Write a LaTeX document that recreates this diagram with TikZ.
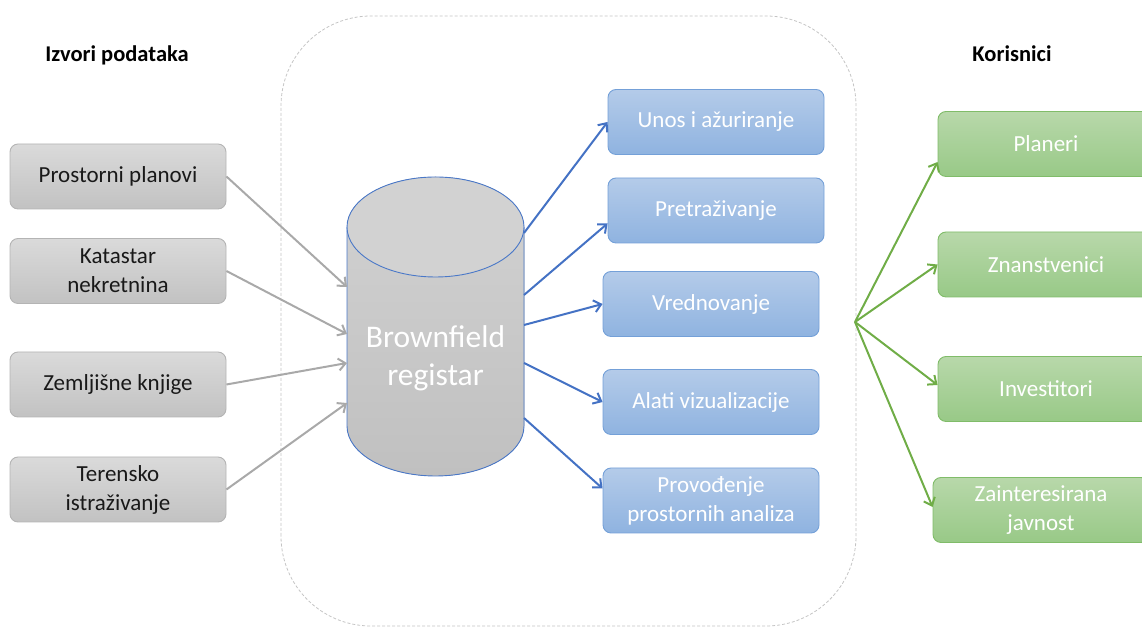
\documentclass[tikz,border=0pt]{standalone}
\usepackage{fontspec}
\setmainfont{Carlito}
\usetikzlibrary{arrows.meta,shapes.geometric}
\definecolor{srcTop}{HTML}{DADADA}
\definecolor{srcBot}{HTML}{C2C2C2}
\definecolor{srcLine}{HTML}{B4B4B4}
\definecolor{srcArrow}{HTML}{A9A9A9}
\definecolor{dbFillTop}{HTML}{D2D2D2}
\definecolor{dbFillBot}{HTML}{C0C0C0}
\definecolor{dbLine}{HTML}{4A78C8}
\definecolor{fnTop}{HTML}{B4CBE9}
\definecolor{fnBot}{HTML}{8FB3E0}
\definecolor{fnLine}{HTML}{74A0D8}
\definecolor{fnArrow}{HTML}{4472C4}
\definecolor{usTop}{HTML}{B8D8AA}
\definecolor{usBot}{HTML}{98C987}
\definecolor{usLine}{HTML}{80BC69}
\definecolor{usArrow}{HTML}{70AD47}
\definecolor{frame}{HTML}{C4C4C4}
\tikzset{
  basebox/.style={rectangle, rounded corners=8pt, minimum width=216pt,
    minimum height=65pt, align=center, inner sep=2pt, line width=0.9pt,
    font=\fontsize{23}{29}\selectfont},
  srcbox/.style={basebox, draw=srcLine, top color=srcTop, bottom color=srcBot, text=black!90},
  fnbox/.style={basebox, draw=fnLine, top color=fnTop, bottom color=fnBot, text=white},
  usbox/.style={basebox, draw=usLine, top color=usTop, bottom color=usBot, text=white},
  heading/.style={font=\fontsize{22.5}{27}\selectfont\bfseries, anchor=base},
  tip/.style={-{Straight Barb[length=7pt,width=12pt]}},
  srcarrow/.style={tip, draw=srcArrow, line width=2pt},
  fnarrow/.style={tip, draw=fnArrow, line width=2pt},
  usarrow/.style={tip, draw=usArrow, line width=2pt},
}
\begin{document}
\begin{tikzpicture}[x=1pt,y=1pt]
\useasboundingbox (0,0) rectangle (1142,628);
\clip (0,0) rectangle (1142,628);

% dashed frame around the register
\draw[frame, dashed, dash pattern=on 3pt off 2pt, line width=0.8pt, rounded corners=90pt]
  (281,2) rectangle (856,612);
\coordinate (hub) at (855,306);

% headings
\node[heading] (hsrc) at (117,566) {Izvori podataka};
\node[heading] (hus) at (1012,566) {Korisnici};

% data sources
\node[srcbox] (p1) at (118,451.5) {Prostorni planovi};
\node[srcbox] (p2) at (118,357) {Katastar\\nekretnina};
\node[srcbox] (p3) at (118,243.5) {Zemljišne knjige};
\node[srcbox] (p4) at (118,138.5) {Terensko\\istraživanje};

% the register cylinder
\fill[top color=dbFillTop, bottom color=dbFillBot]
  (347,401) -- (347,202) arc[start angle=180, end angle=360, x radius=88.5pt, y radius=50pt]
  -- (524,401) arc[start angle=0, end angle=180, x radius=88.5pt, y radius=50pt] -- cycle;
\draw[dbLine, line width=0.9pt]
  (347,401) -- (347,202) arc[start angle=180, end angle=360, x radius=88.5pt, y radius=50pt]
  -- (524,401);
\draw[dbLine, line width=0.9pt, fill=dbFillTop] (435.5,401) ellipse[x radius=88.5pt, y radius=50pt];
\node[text=white, align=center, font=\fontsize{31.5}{38}\selectfont] (db) at (435.5,270) {Brownfield\\registar};

% ports on the cylinder walls
\coordinate (in1) at (347,341);
\coordinate (in2) at (347,294);
\coordinate (in3) at (347,265);
\coordinate (in4) at (347,225);
\coordinate (out1) at (524,395);
\coordinate (out2) at (524,333);
\coordinate (out3) at (524,303);
\coordinate (out4) at (524,265);
\coordinate (out5) at (524,210);

% functions
\node[fnbox] (b1) at (716,506) {Unos i ažuriranje};
\node[fnbox] (b2) at (716,417.5) {Pretraživanje};
\node[fnbox] (b3) at (711,324) {Vrednovanje};
\node[fnbox] (b4) at (711,226) {Alati vizualizacije};
\node[fnbox] (b5) at (711,127.5) {Provođenje\\prostornih analiza};

% users
\node[usbox] (g1) at (1046,484) {Planeri};
\node[usbox] (g2) at (1046,363.5) {Znanstvenici};
\node[usbox] (g3) at (1046,239) {Investitori};
\node[usbox] (g4) at (1041,118) {Zainteresirana\\javnost};

% connectors
\draw[srcarrow] (p1.east) -- (in1);
\draw[srcarrow] (p2.east) -- (in2);
\draw[srcarrow] (p3.east) -- (in3);
\draw[srcarrow] (p4.east) -- (in4);

\draw[fnarrow] (out1) -- (b1.west);
\draw[fnarrow] (out2) -- ([yshift=-13pt]b2.west);
\draw[fnarrow] (out3) -- (b3.west);
\draw[fnarrow] (out4) -- (b4.west);
\draw[fnarrow] (out5) -- ([yshift=12pt]b5.west);

\draw[usarrow] (hub) -- ([yshift=-18pt]g1.west);
\draw[usarrow] (hub) -- (g2.west);
\draw[usarrow] (hub) -- ([yshift=4pt]g3.west);
\draw[usarrow] (hub) -- ([yshift=3pt]g4.west);
\end{tikzpicture}
\end{document}
